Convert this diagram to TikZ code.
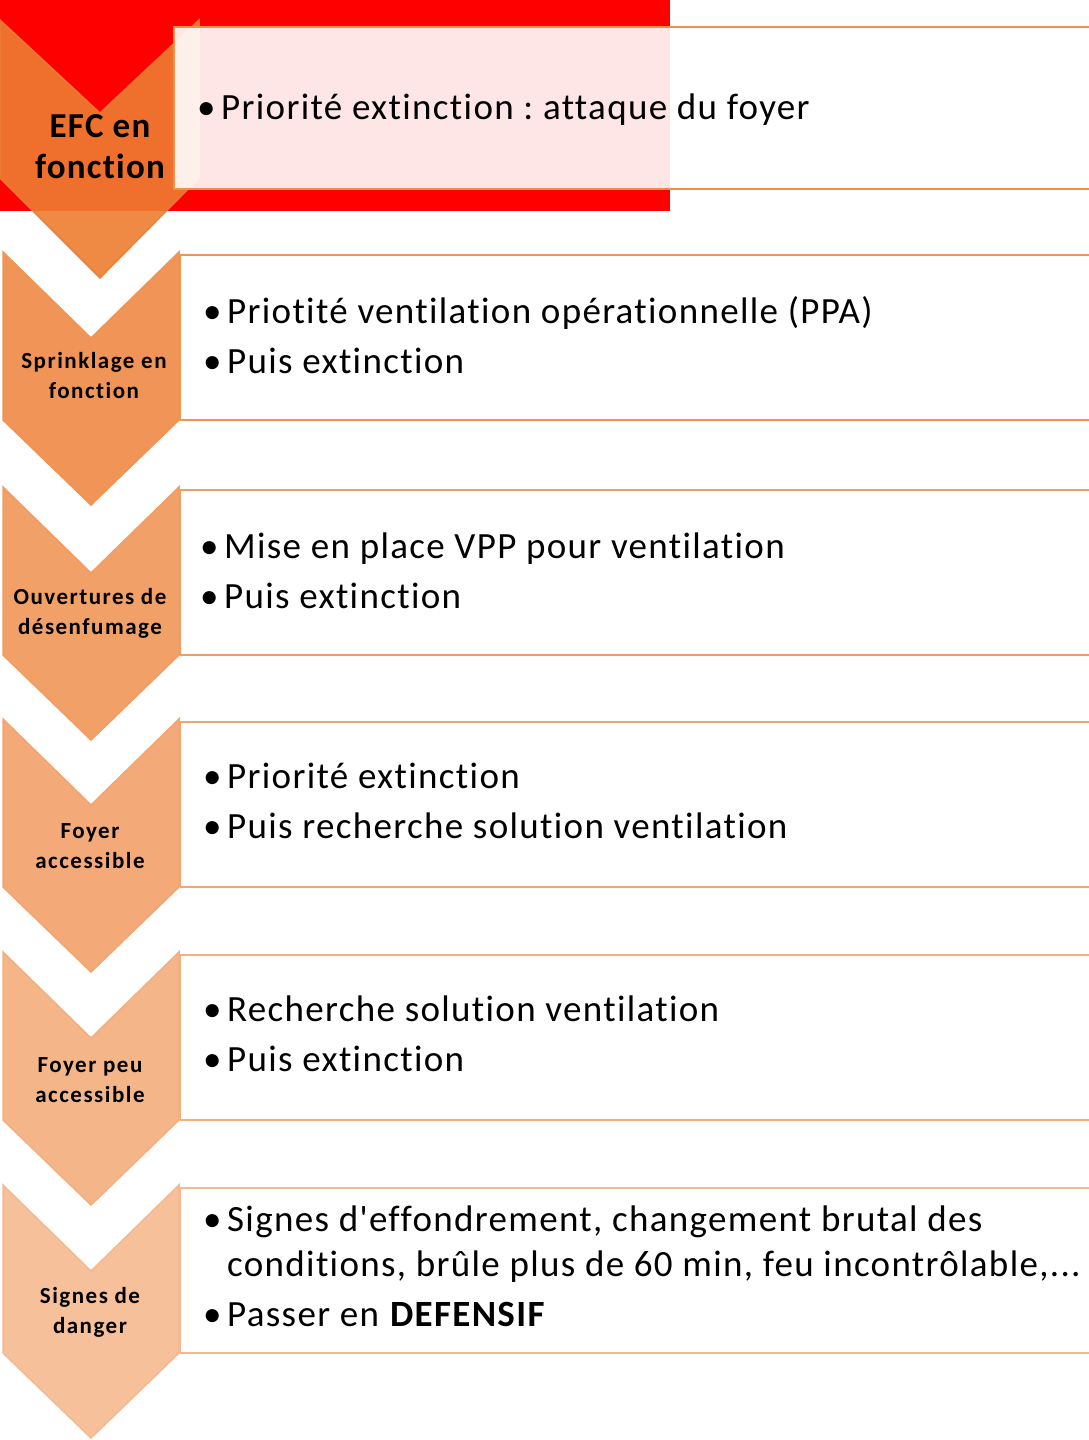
\documentclass[tikz,border=0pt]{standalone}
\usepackage{fontspec}
\setmainfont{Carlito}[Ligatures={TeXOff,NoCommon}]
\newfontfamily\spacedfont{Carlito}[Ligatures={TeXOff,NoCommon},LetterSpace=3.6]
\newfontfamily\spacedlbl{Carlito}[Ligatures={TeXOff,NoCommon},LetterSpace=6.5]
\frenchspacing
\definecolor{cA}{HTML}{ED7D31}
\definecolor{cB}{HTML}{F09557}
\definecolor{cC}{HTML}{F1A068}
\definecolor{cD}{HTML}{F3AA78}
\definecolor{cE}{HTML}{F4B589}
\definecolor{cF}{HTML}{F5C09A}
\tikzset{
  lbl/.style={align=center,font=\spacedlbl\fontsize{23}{30}\selectfont\bfseries,inner sep=0pt},
  bigl/.style={align=center,font=\spacedfont\fontsize{35}{41}\selectfont\bfseries,inner sep=0pt},
  txt/.style={anchor=base west,font=\spacedfont\fontsize{37}{50}\selectfont\frenchspacing,inner sep=0pt},
  bul/.style={anchor=base west,font=\fontsize{37}{50}\selectfont,inner sep=0pt}
}
\begin{document}
\begin{tikzpicture}[x=1pt,y=-1pt]
\useasboundingbox (0,0) rectangle (1089,1440);
\clip (0,0) rectangle (1089,1440);
\fill[red] (0,0) rectangle (670,211);
\filldraw[fill=cA,draw=cA,fill opacity=0.9,draw opacity=0.9,line width=1.5pt]
  (0,20) -- (100,113) -- (199,20) -- (199,178) -- (100,278) -- (0,178) -- cycle;
\filldraw[fill=white,fill opacity=0.9,draw=cA!85,line width=2.5pt] (174,27) rectangle (1100,189);
\foreach \t/\c in {252/cB,487/cC,719/cD,952/cE,1185/cF}{
  \filldraw[fill=\c,draw=\c!90!cA,line width=1.5pt]
    (3,\t) -- (91,\t+86) -- (179,\t) -- (179,\t+168) -- (91,\t+253) -- (3,\t+168) -- cycle;
  \draw[draw=\c!90!cA,line width=2.5pt] (180,\t+3) -- (1100,\t+3) (180,\t+168) -- (1100,\t+168) (180,\t+3) -- (180,\t+168);
}
\node[bigl] (l1) at (100,147) {EFC en\\fonction};
\node[lbl] (l2) at (94,376) {Sprinklage en\\fonction};
\node[lbl] (l3) at (90,613) {Ouvertures de\\désenfumage};
\node[lbl] (l4) at (90,846) {Foyer\\accessible};
\node[lbl] (l5) at (90,1080) {Foyer peu\\accessible};
\node[lbl] (l6) at (90,1312) {Signes de\\danger};
\node[bul] (b1) at (197,119) {•};
\node[txt] (t1) at (221,119) {Priorité extinction : attaque du foyer};
\node[bul] (b2a) at (203,323) {•};
\node[txt] (t2a) at (227,323) {Priotité ventilation opérationnelle (PPA)};
\node[bul] (b2b) at (203,373) {•};
\node[txt] (t2b) at (227,373) {Puis extinction};
\node[bul] (b3a) at (200,558) {•};
\node[txt] (t3a) at (224,558) {Mise en place VPP pour ventilation};
\node[bul] (b3b) at (200,608) {•};
\node[txt] (t3b) at (224,608) {Puis extinction};
\node[bul] (b4a) at (203,788) {•};
\node[txt] (t4a) at (227,788) {Priorité extinction};
\node[bul] (b4b) at (203,838) {•};
\node[txt] (t4b) at (227,838) {Puis recherche solution ventilation};
\node[bul] (b5a) at (203,1021) {•};
\node[txt] (t5a) at (227,1021) {Recherche solution ventilation};
\node[bul] (b5b) at (203,1071) {•};
\node[txt] (t5b) at (227,1071) {Puis extinction};
\node[bul] (b6a) at (203,1231) {•};
\node[txt] (t6a) at (227,1231) {Signes d'effondrement, changement brutal des};
\node[txt] (t6b) at (227,1276) {conditions, brûle plus de 60 min, feu incontrôlable,...};
\node[bul] (b6c) at (203,1326) {•};
\node[txt] (t6c) at (227,1326) {Passer en \textbf{DEFENSIF}};
\end{tikzpicture}
\end{document}
